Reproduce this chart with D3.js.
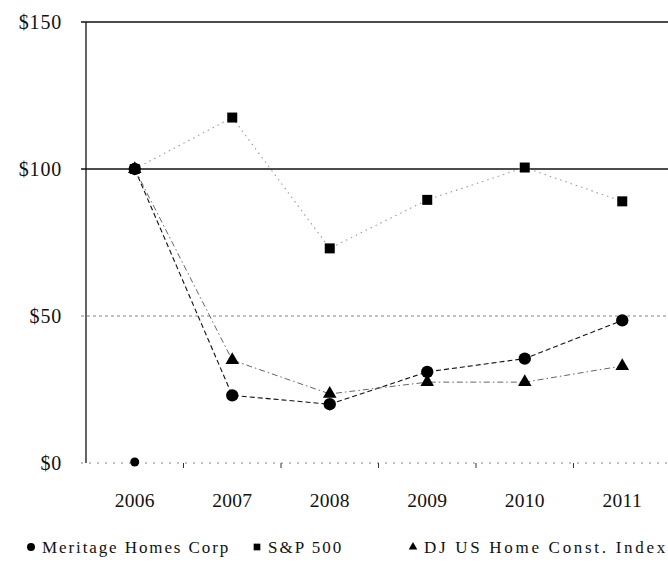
<!DOCTYPE html>
<html>
<head>
<meta charset="utf-8">
<script src="https://cdn.jsdelivr.net/npm/d3@7.9.0/dist/d3.min.js"></script>
<style>
  body { margin: 0; background: #fff; }
  svg text { font-family: "Liberation Serif", "Times New Roman", serif; fill: #111; }
</style>
</head>
<body>
<svg id="chart" width="668" height="565"></svg>
<script>
// ---- data ----
const years = ["2006", "2007", "2008", "2009", "2010", "2011"];
const meritage = [100, 23, 20, 31, 35.5, 48.5];
const sp500 = [100, 117.5, 73, 89.5, 100.5, 89];
const djHome = [100, 35, 23.5, 27.5, 27.5, 33];
const meritageBase = [{ year: "2006", value: 0 }];   // stray point on the baseline
const yTicks = [0, 50, 100, 150];

const width = 668, height = 565;
const margin = { top: 22, right: -3, bottom: 102, left: 86 };

const svg = d3.select("#chart");

const x = d3.scaleBand()
    .domain(years)
    .range([margin.left, width - margin.right]);

const y = d3.scaleLinear()
    .domain([0, 150])
    .range([height - margin.bottom, margin.top]);

const cx = d => x(d) + x.bandwidth() / 2;

// gridlines
svg.append("g")
    .selectAll("line")
    .data(yTicks)
    .join("line")
    .attr("x1", margin.left - 5)
    .attr("x2", width)
    .attr("y1", d => y(d))
    .attr("y2", d => y(d))
    .attr("stroke", d => (d === 100 || d === 150) ? "#111" : "#777")
    .attr("stroke-width", d => (d === 100 || d === 150) ? 1.3 : 0.9)
    .attr("stroke-dasharray", d => (d === 100 || d === 150) ? null : (d === 0 ? "2,6" : "3,3"));

// left axis
svg.append("line")
    .attr("x1", margin.left).attr("x2", margin.left)
    .attr("y1", y(150)).attr("y2", y(0))
    .attr("stroke", "#111").attr("stroke-width", 1.3);

// bottom ticks between bands
svg.append("g")
    .selectAll("line")
    .data(years.slice(1))
    .join("line")
    .attr("x1", d => x(d)).attr("x2", d => x(d))
    .attr("y1", y(0)).attr("y2", y(0) + 5)
    .attr("stroke", "#333").attr("stroke-width", 1);

// y labels
svg.append("g")
    .selectAll("text")
    .data(yTicks)
    .join("text")
    .attr("x", 62)
    .attr("y", d => y(d) + 7)
    .attr("text-anchor", "end")
    .style("font-size", "20px")
    .style("letter-spacing", "0.8px")
    .text(d => "$" + d);

// x labels
svg.append("g")
    .selectAll("text")
    .data(years)
    .join("text")
    .attr("x", d => cx(d))
    .attr("y", 507)
    .attr("text-anchor", "middle")
    .style("font-size", "19.5px")
    .style("letter-spacing", "0.3px")
    .text(d => d);

// series
const series = [
    { name: "Meritage Homes Corp", values: meritage, color: "#111", dash: "5,3", width: 1.1, shape: d3.symbolCircle, size: 120 },
    { name: "S&P 500", values: sp500, color: "#999", dash: "1.5,4", width: 1.1, shape: d3.symbolSquare, size: 100 },
    { name: "DJ US Home Const. Index", values: djHome, color: "#666", dash: "6,3,1.5,3", width: 1, shape: d3.symbolTriangle, size: 80 }
];

const line = d3.line()
    .x((d, i) => cx(years[i]))
    .y(d => y(d));

series.forEach(s => {
    svg.append("path")
        .attr("d", line(s.values))
        .attr("fill", "none")
        .attr("stroke", s.color)
        .attr("stroke-width", s.width)
        .attr("stroke-dasharray", s.dash);
});

series.slice().reverse().forEach(s => {
    svg.append("g")
        .selectAll("path")
        .data(s.values)
        .join("path")
        .attr("transform", (d, i) => `translate(${cx(years[i])},${y(d)})`)
        .attr("d", d3.symbol().type(s.shape).size(s.size))
        .attr("fill", "#000");
});

// stray baseline point
svg.append("g")
    .selectAll("circle")
    .data(meritageBase)
    .join("circle")
    .attr("cx", d => cx(d.year))
    .attr("cy", d => y(d.value) - 1)
    .attr("r", 4.5)
    .attr("fill", "#000");

// legend
const legend = [
    { name: "Meritage Homes Corp", shape: d3.symbolCircle, size: 50, x: 31, ls: 1.9 },
    { name: "S&P 500", shape: d3.symbolSquare, size: 45, x: 257, ls: 2 },
    { name: "DJ US Home Const. Index", shape: d3.symbolTriangle, size: 32, x: 413, ls: 2.7 }
];

const lg = svg.append("g").selectAll("g")
    .data(legend)
    .join("g")
    .attr("transform", d => `translate(${d.x},547)`);

lg.append("path")
    .attr("d", d => d3.symbol().type(d.shape).size(d.size)())
    .attr("fill", "#000");

lg.append("text")
    .attr("x", 11)
    .attr("y", 6)
    .style("font-size", "17px")
    .style("letter-spacing", d => d.ls + "px")
    .text(d => d.name);
</script>
</body>
</html>
